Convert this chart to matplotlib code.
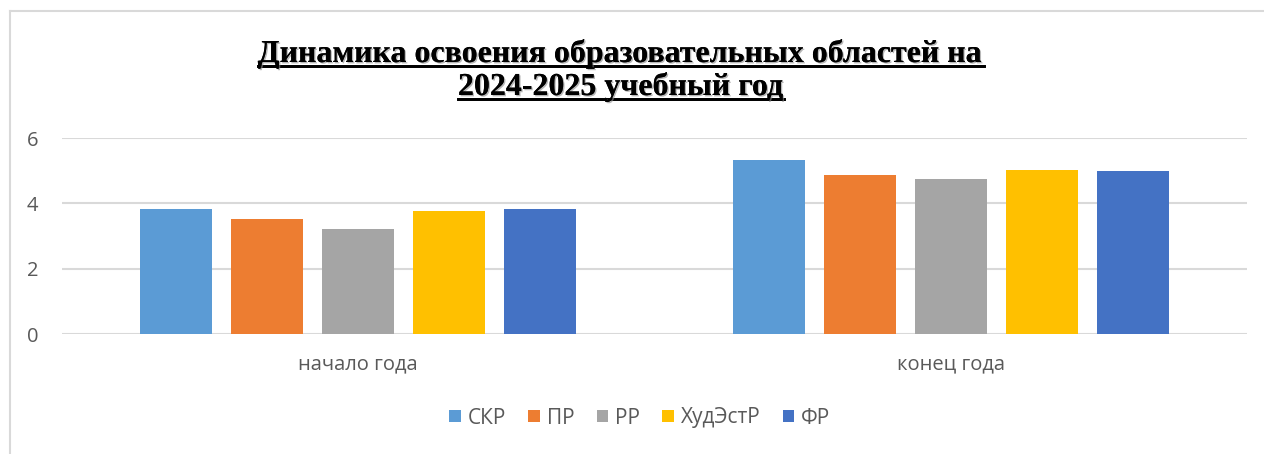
import matplotlib.pyplot as plt
import matplotlib.patheffects as pe
import numpy as np

categories = ['начало года', 'конец года']
series = ['СКР', 'ПР', 'РР', 'ХудЭстР', 'ФР']
values = [
    [3.84, 5.34],
    [3.53, 4.86],
    [3.22, 4.74],
    [3.78, 5.03],
    [3.83, 5.00],
]
colors = ['#5B9BD5', '#ED7D31', '#A5A5A5', '#FFC000', '#4472C4']
yticks = [0, 2, 4, 6]

W, H = 1264, 454
fig = plt.figure(figsize=(W / 100, H / 100), dpi=100)
# chart frame: only top and left edges are visible in the picture
fig.add_artist(plt.Line2D([10 / W, 1.0], [1 - 10.5 / H, 1 - 10.5 / H],
                          transform=fig.transFigure, color='#D9D9D9', linewidth=1.5))
fig.add_artist(plt.Line2D([10 / W, 10 / W], [0, 1 - 10.5 / H],
                          transform=fig.transFigure, color='#D9D9D9', linewidth=1.5))

ax = fig.add_axes([62 / W, 1 - 334 / H, (1247 - 62) / W, (334 - 138) / H])

x = np.arange(len(categories))
step = 91 / 592.5
width = 72 / 592.5
for i, (name, vals) in enumerate(zip(series, values)):
    ax.bar(x + (i - 2) * step, vals, width, color=colors[i], label=name, zorder=3)

ax.set_xlim(-0.5, 1.5)
ax.set_ylim(0, 6)
ax.set_yticks(yticks)
ax.grid(axis='y', color='#D9D9D9', linewidth=1.5, zorder=0)
for s in ax.spines.values():
    s.set_visible(False)
ax.tick_params(length=0)
ax.set_xticks(x)
ax.set_xticklabels(categories)
for lbl in ax.get_xticklabels() + ax.get_yticklabels():
    lbl.set_fontfamily('Open Sans')
    lbl.set_fontsize(14.5)
    lbl.set_color('#595959')
ax.tick_params(axis='x', pad=15)
ax.tick_params(axis='y', pad=17)

leg = fig.legend(loc='center', bbox_to_anchor=(640 / W, 1 - 418 / H), ncol=5,
                 frameon=False, prop={'family': 'Open Sans', 'size': 15},
                 handlelength=0.55, handleheight=0.55, handletextpad=0.35,
                 columnspacing=1.05)
for t in leg.get_texts():
    t.set_color('#595959')

shadow = [pe.withSimplePatchShadow(offset=(1, -1), shadow_rgbFace='#888888', alpha=0.6), pe.Normal()]
t1 = fig.text(621 / W, 1 - 62 / H, 'Динамика освоения образовательных областей на',
              ha='center', va='baseline', fontsize=23, fontweight='bold',
              family='Liberation Serif', path_effects=shadow)
t2 = fig.text(621 / W, 1 - 95 / H, '2024-2025 учебный год',
              ha='center', va='baseline', fontsize=23, fontweight='bold',
              family='Liberation Serif', path_effects=shadow)

fig.canvas.draw()
r = fig.canvas.get_renderer()
for t, yb in ((t1, 65.5), (t2, 98.5)):
    bb = t.get_window_extent(r)
    fig.add_artist(plt.Line2D([bb.x0 / W, bb.x1 / W], [1 - yb / H, 1 - yb / H],
                              transform=fig.transFigure, color='black', linewidth=2,
                              path_effects=shadow))

fig.savefig('out.png', dpi=100)
